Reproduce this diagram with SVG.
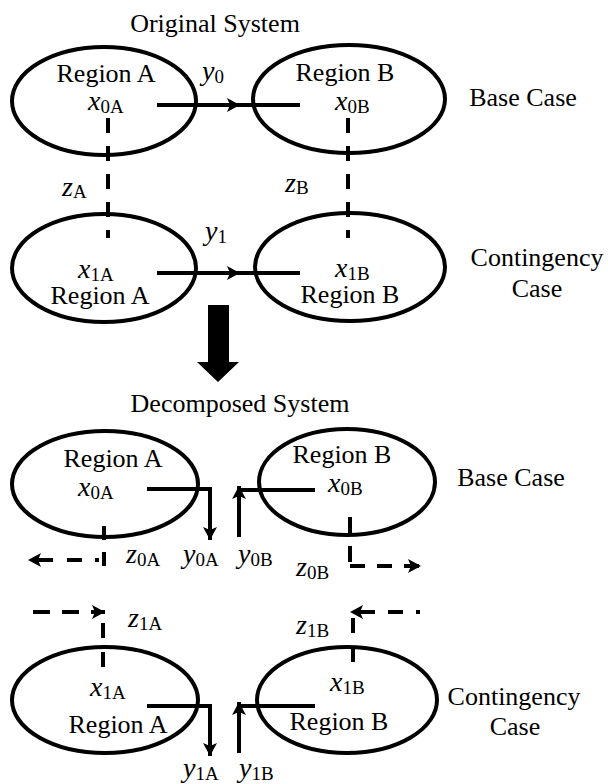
<svg xmlns="http://www.w3.org/2000/svg" width="608" height="784" viewBox="0 0 608 784">
<style>
.ell{fill:none;stroke:#000;stroke-width:4}
.ln{fill:none;stroke:#000;stroke-width:4}
.ds{fill:none;stroke:#000;stroke-width:4}
text{font-family:"Liberation Serif","Times New Roman",serif;font-size:26px;fill:#000}
.m{text-anchor:middle}
.v{font-style:italic;font-size:28px}
.s{font-size:19px}
</style>
<defs>
<marker id="ah" viewBox="0 0 14 14" refX="13" refY="7" markerWidth="14" markerHeight="14" markerUnits="userSpaceOnUse" orient="auto">
<path d="M0,0 L13,7 L0,14 L3,7 Z" fill="#000"/>
</marker>
</defs>

<text class="m" x="215" y="32">Original System</text>
<text class="m" x="240" y="412">Decomposed System</text>

<g id="orig-regionA-base">
<ellipse class="ell" cx="104" cy="101" rx="92" ry="54"/>
<text class="m" x="106" y="82">Region A</text>
<text x="88" y="110"><tspan class="v">x</tspan><tspan class="s" dy="3">0A</tspan></text>
</g>
<g id="orig-regionB-base">
<ellipse class="ell" cx="349" cy="99" rx="96" ry="54"/>
<text class="m" x="345" y="81">Region B</text>
<text x="335" y="110"><tspan class="v">x</tspan><tspan class="s" dy="3">0B</tspan></text>
</g>
<g id="orig-regionA-cont">
<ellipse class="ell" cx="104" cy="268" rx="92" ry="54"/>
<text x="78" y="278"><tspan class="v">x</tspan><tspan class="s" dy="3">1A</tspan></text>
<text class="m" x="100" y="304">Region A</text>
</g>
<g id="orig-regionB-cont">
<ellipse class="ell" cx="350" cy="267" rx="95" ry="54"/>
<text x="335" y="277"><tspan class="v">x</tspan><tspan class="s" dy="3">1B</tspan></text>
<text class="m" x="350" y="303">Region B</text>
</g>
<g id="orig-labels">
<text class="m" x="523" y="106">Base Case</text>
<text class="m" x="537" y="266">Contingency</text>
<text class="m" x="537" y="297">Case</text>
<text x="202" y="80"><tspan class="v">y</tspan><tspan class="s" dy="3">0</tspan></text>
<text x="205" y="240"><tspan class="v">y</tspan><tspan class="s" dy="3">1</tspan></text>
<text x="62" y="196"><tspan class="v">z</tspan><tspan class="s" dy="2">A</tspan></text>
<text x="285" y="192"><tspan class="v">z</tspan><tspan class="s" dy="2">B</tspan></text>
</g>

<g id="dec-regionA-base">
<ellipse class="ell" cx="105" cy="484" rx="93" ry="53"/>
<text class="m" x="113" y="467">Region A</text>
<text x="78" y="496"><tspan class="v">x</tspan><tspan class="s" dy="3">0A</tspan></text>
</g>
<g id="dec-regionB-base">
<ellipse class="ell" cx="347" cy="482" rx="88" ry="53"/>
<text class="m" x="342" y="463">Region B</text>
<text x="328" y="492"><tspan class="v">x</tspan><tspan class="s" dy="3">0B</tspan></text>
</g>
<g id="dec-regionA-cont">
<ellipse class="ell" cx="105" cy="700" rx="93" ry="53"/>
<text x="90" y="696"><tspan class="v">x</tspan><tspan class="s" dy="3">1A</tspan></text>
<text class="m" x="118" y="733">Region A</text>
</g>
<g id="dec-regionB-cont">
<ellipse class="ell" cx="347" cy="700" rx="90" ry="53"/>
<text x="330" y="691"><tspan class="v">x</tspan><tspan class="s" dy="3">1B</tspan></text>
<text class="m" x="339" y="730">Region B</text>
</g>
<g id="dec-labels">
<text class="m" x="511" y="486">Base Case</text>
<text class="m" x="514" y="705">Contingency</text>
<text class="m" x="515" y="735">Case</text>
<text x="126" y="563"><tspan class="v">z</tspan><tspan class="s" dy="3">0A</tspan></text>
<text x="183" y="563"><tspan class="v">y</tspan><tspan class="s" dy="3">0A</tspan></text>
<text x="238" y="563"><tspan class="v">y</tspan><tspan class="s" dy="3">0B</tspan></text>
<text x="296" y="576"><tspan class="v">z</tspan><tspan class="s" dy="3">0B</tspan></text>
<text x="128" y="627"><tspan class="v">z</tspan><tspan class="s" dy="3">1A</tspan></text>
<text x="296" y="634"><tspan class="v">z</tspan><tspan class="s" dy="3">1B</tspan></text>
<text x="183" y="777"><tspan class="v">y</tspan><tspan class="s" dy="3">1A</tspan></text>
<text x="239" y="777"><tspan class="v">y</tspan><tspan class="s" dy="3">1B</tspan></text>
</g>

<g id="connectors">
<path class="ln" d="M157 105 L240 105 L300 105" marker-mid="url(#ah)"/>
<path class="ln" d="M157 273 L240 273 L300 273" marker-mid="url(#ah)"/>
<path class="ds" d="M108 118 V238" stroke-dasharray="15 13"/>
<path class="ds" d="M348 118 V238" stroke-dasharray="15 13"/>
<path d="M208 305 H229 V362 H239 L218 382 L197 362 H208 Z" fill="#000"/>

<path class="ln" d="M147 489 H210 V540" marker-end="url(#ah)"/>
<path class="ln" d="M315 490 H237"/>
<path class="ln" d="M239 537 V486" marker-end="url(#ah)"/>
<path class="ds" d="M104 526 V568" stroke-dasharray="14 12"/>
<path class="ds" d="M99 560 H28" stroke-dasharray="4 13 15 14 15 14" marker-end="url(#ah)"/>
<path class="ds" d="M350 517 V562" stroke-dasharray="16 13"/>
<path class="ds" d="M350 566 H421" stroke-dasharray="15 12" marker-end="url(#ah)"/>

<path class="ln" d="M147 706 H210 V756" marker-end="url(#ah)"/>
<path class="ln" d="M315 706 H237"/>
<path class="ln" d="M239 753 V702" marker-end="url(#ah)"/>
<path class="ds" d="M33 612 H105" stroke-dasharray="17 12" marker-end="url(#ah)"/>
<path class="ds" d="M103 623 V667" stroke-dasharray="15 14"/>
<path class="ds" d="M420 612 H350" stroke-dasharray="4 13 15 13 15 13" marker-end="url(#ah)"/>
<path class="ds" d="M353 618 V662" stroke-dasharray="15 14"/>
</g>
</svg>
